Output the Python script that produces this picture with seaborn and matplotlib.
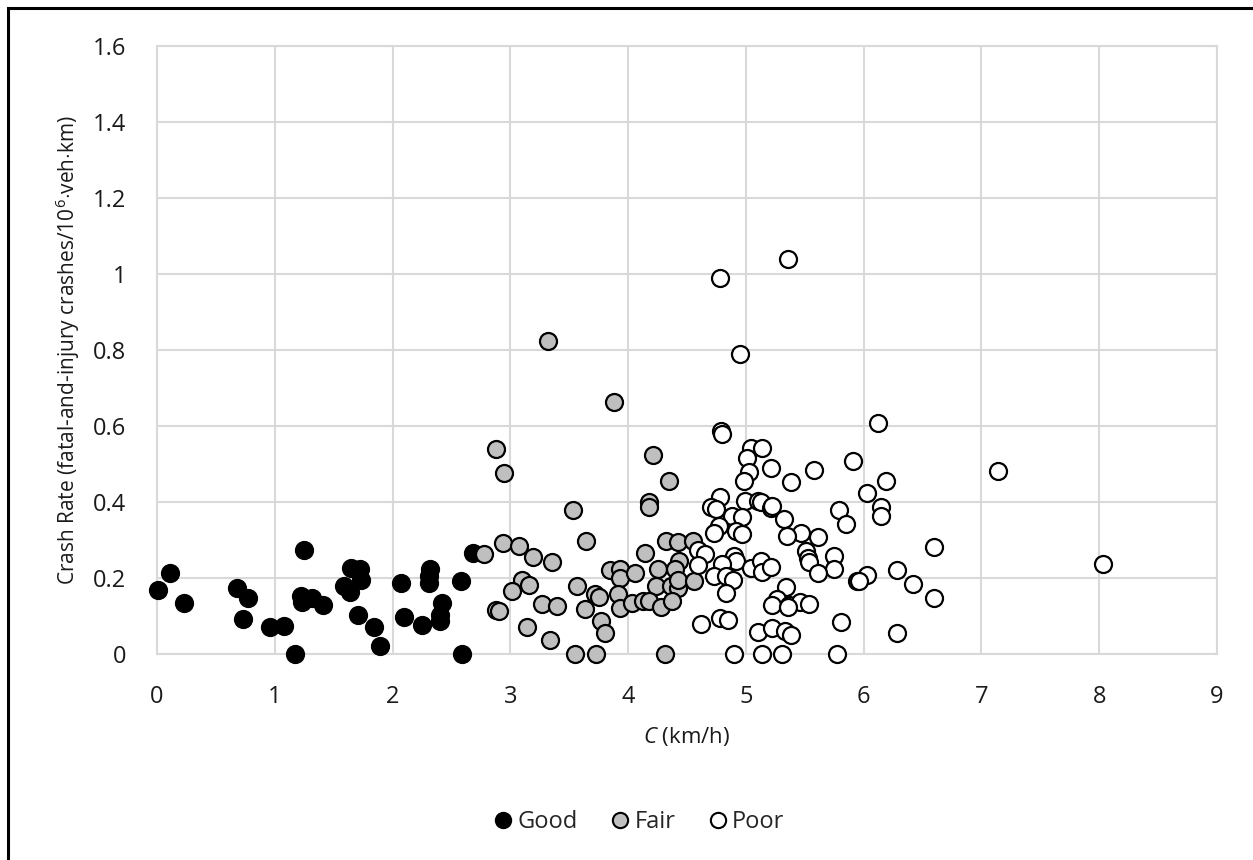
"""Crash rate vs. C scatter, grouped by condition."""
import matplotlib
matplotlib.use("Agg")
import matplotlib.pyplot as plt
from matplotlib.lines import Line2D
from matplotlib.patches import Rectangle
import seaborn as sns
import pandas as pd

# Good
good_x = [0.01, 0.11, 0.23, 0.68, 0.77, 0.73, 0.96, 1.08, 1.175, 1.25, 1.22, 1.23,
          1.32, 1.41, 1.65, 1.72, 1.73, 1.59, 1.64, 1.71, 1.84, 1.89, 2.07, 2.10,
          2.25, 2.32, 2.31, 2.31, 2.58, 2.42, 2.40, 2.40, 2.59, 2.68]
good_y = [0.168, 0.213, 0.135, 0.173, 0.147, 0.091, 0.071, 0.074, 0.0, 0.273, 0.153, 0.138,
          0.148, 0.128, 0.227, 0.223, 0.194, 0.179, 0.164, 0.103, 0.071, 0.02, 0.186, 0.098,
          0.077, 0.225, 0.205, 0.188, 0.192, 0.135, 0.103, 0.087, 0.0, 0.266]

# Fair
fair_x = [3.32, 3.88, 2.88, 2.95, 4.21, 4.35, 4.18, 4.18, 3.53, 2.78, 2.94, 3.07,
          3.19, 3.35, 3.64, 4.14, 4.32, 4.42, 4.55, 4.43, 4.25, 4.40, 3.85, 3.93,
          3.93, 4.06, 3.10, 3.16, 3.01, 3.57, 3.72, 3.75, 3.91, 4.24, 4.36, 4.42,
          4.42, 4.56, 2.88, 3.27, 3.40, 3.63, 3.93, 4.03, 4.13, 4.18, 4.28, 4.37,
          3.14, 3.77, 3.80, 3.34, 3.55, 3.73, 4.31, 2.90]
fair_y = [0.825, 0.662, 0.54, 0.477, 0.523, 0.455, 0.40, 0.388, 0.378, 0.264, 0.293, 0.284,
          0.255, 0.243, 0.297, 0.267, 0.297, 0.294, 0.297, 0.246, 0.225, 0.225, 0.222, 0.225,
          0.201, 0.212, 0.194, 0.182, 0.165, 0.178, 0.159, 0.151, 0.158, 0.178, 0.178, 0.175,
          0.194, 0.192, 0.115, 0.131, 0.127, 0.118, 0.122, 0.135, 0.139, 0.139, 0.124, 0.139,
          0.071, 0.087, 0.056, 0.036, 0.0, 0.0, 0.0, 0.113]

# Poor
poor_x = [4.79, 4.78, 5.36, 4.95, 5.04, 5.14, 5.01, 5.03, 4.98, 5.21, 5.38, 5.58,
          5.91, 4.78, 4.70, 4.75, 4.99, 5.10, 5.13, 5.21, 5.32, 5.47, 5.61, 5.35,
          5.79, 5.85, 4.88, 4.97, 4.77, 4.73, 4.92, 4.97, 5.51, 5.53, 5.54, 5.75,
          5.75, 5.61, 4.59, 4.65, 4.59, 4.90, 4.92, 4.80, 4.73, 4.83, 4.89, 4.83,
          5.04, 5.13, 5.14, 5.21, 5.34, 5.26, 5.22, 5.37, 5.46, 5.54, 4.62, 4.78,
          4.85, 5.10, 5.22, 5.33, 5.38, 5.81, 4.90, 5.14, 5.31, 5.77, 5.94, 6.12,
          6.19, 6.03, 6.15, 6.15, 6.60, 6.28, 6.42, 6.60, 6.03, 5.96, 6.28, 7.14,
          8.03, 4.80, 5.36, 5.22]
poor_y = [0.587, 0.99, 1.04, 0.79, 0.541, 0.543, 0.515, 0.479, 0.455, 0.489, 0.453, 0.484,
          0.508, 0.414, 0.388, 0.381, 0.403, 0.403, 0.40, 0.385, 0.354, 0.319, 0.308, 0.31,
          0.378, 0.343, 0.363, 0.36, 0.337, 0.319, 0.324, 0.317, 0.271, 0.253, 0.243, 0.258,
          0.223, 0.212, 0.275, 0.264, 0.233, 0.258, 0.245, 0.236, 0.205, 0.205, 0.196, 0.161,
          0.227, 0.245, 0.217, 0.229, 0.176, 0.144, 0.129, 0.129, 0.138, 0.132, 0.078, 0.094,
          0.089, 0.058, 0.068, 0.061, 0.049, 0.085, 0.0, 0.0, 0.0, 0.0, 0.192, 0.607,
          0.455, 0.424, 0.387, 0.363, 0.282, 0.221, 0.185, 0.148, 0.207, 0.192, 0.054, 0.482,
          0.236, 0.58, 0.125, 0.39]

conditions = ["Good", "Fair", "Poor"]
fill_colors = {"Good": "#000000", "Fair": "#bfbfbf", "Poor": "#ffffff"}

df = pd.concat([
    pd.DataFrame({"C": good_x, "rate": good_y, "cond": "Good"}),
    pd.DataFrame({"C": fair_x, "rate": fair_y, "cond": "Fair"}),
    pd.DataFrame({"C": poor_x, "rate": poor_y, "cond": "Poor"}),
], ignore_index=True)

sns.set_theme(style="whitegrid")
plt.rcParams["font.family"] = ["Open Sans", "DejaVu Sans"]
plt.rcParams["mathtext.fontset"] = "custom"
plt.rcParams["mathtext.rm"] = "Open Sans"
plt.rcParams["mathtext.it"] = "Open Sans:italic"

fig = plt.figure(figsize=(12.53, 8.6), dpi=100)
ax = fig.add_axes([157 / 1253, 1 - 654 / 860, (1217 - 157) / 1253, (654 - 46) / 860])

for cond in conditions:
    sns.scatterplot(data=df[df["cond"] == cond], x="C", y="rate", ax=ax,
                    color=fill_colors[cond], edgecolor="black", linewidth=1.6,
                    s=150, legend=False, zorder=3, clip_on=False)

ax.set_xlim(0, 9)
ax.set_ylim(0, 1.6)
ax.set_xticks(range(10))
ax.set_yticks([i * 0.2 for i in range(9)])
ax.set_yticklabels(["0", "0.2", "0.4", "0.6", "0.8", "1", "1.2", "1.4", "1.6"])
ax.grid(True, color="#d9d9d9", linewidth=1.5)
for sp in ax.spines.values():
    sp.set_color("#d9d9d9")
    sp.set_linewidth(1.5)
ax.tick_params(axis="both", labelsize=17, colors="#1a1a1a", length=0)
ax.tick_params(axis="x", pad=22)
ax.tick_params(axis="y", pad=22)

ax.set_xlabel("$\\it{C}$ (km/h)", fontsize=16, color="#1a1a1a", labelpad=12)
ax.set_ylabel("Crash Rate (fatal-and-injury crashes/10$^{6}$$\\cdot$veh$\\cdot$km)",
              fontsize=15, color="#1a1a1a", labelpad=8)

handles = [Line2D([], [], marker="o", linestyle="none", markersize=11,
                  markerfacecolor=fill_colors[c], markeredgecolor="black",
                  markeredgewidth=1.5, label=c) for c in conditions]
fig.legend(handles=handles, loc="center", bbox_to_anchor=(638 / 1253, 1 - 822 / 860),
           ncol=3, frameon=False, fontsize=17, handletextpad=0.1, columnspacing=1.3,
           handlelength=1.0)

fig.patches.append(Rectangle((8 / 1253, -0.1), 2, 0.1 + (860 - 8) / 860,
                             transform=fig.transFigure, fill=False,
                             edgecolor="black", linewidth=2.2))

fig.savefig("out.png", dpi=100)
